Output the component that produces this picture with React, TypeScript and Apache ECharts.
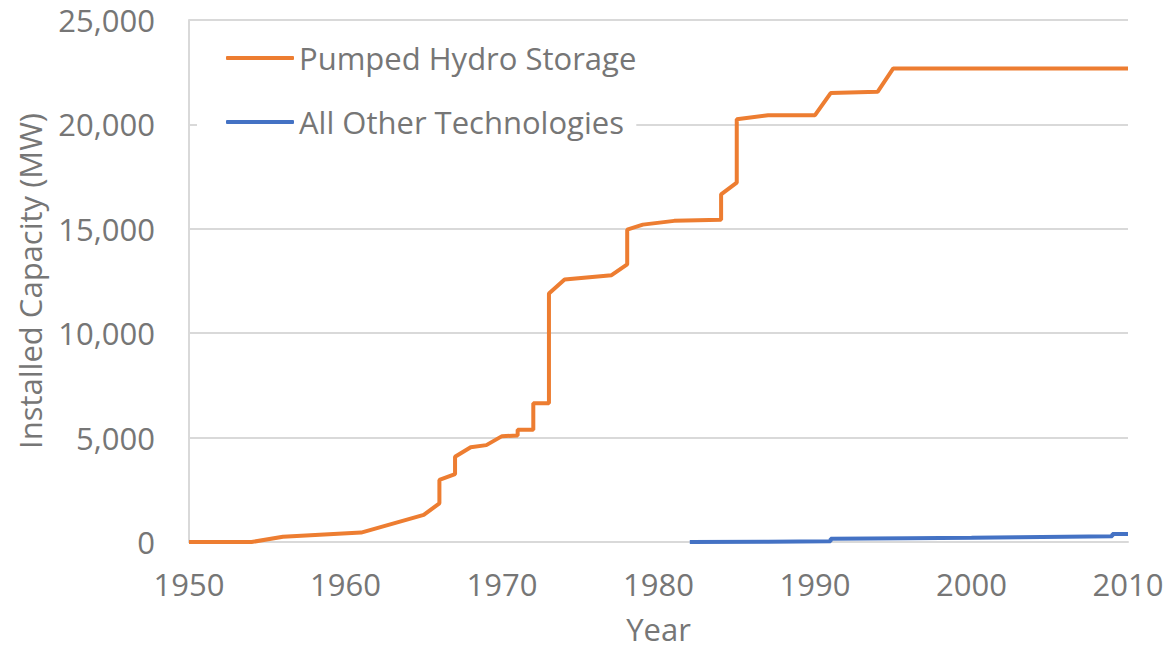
import React, { useEffect, useRef } from "react";
import * as echarts from "echarts";

const seriesNames = ["Pumped Hydro Storage", "All Other Technologies"];

// [year, MW]
const pumpedHydro: [number, number][] = [
  [1950, 0], [1954, 0], [1956, 250], [1961, 450], [1965, 1300],
  [1966, 1850], [1966, 2970], [1967, 3250], [1967, 4080], [1968, 4540],
  [1969, 4640], [1970, 5070], [1971, 5100], [1971, 5380], [1972, 5380],
  [1972, 6650], [1973, 6650], [1973, 11900], [1974, 12570], [1977, 12780],
  [1978, 13300], [1978, 14960], [1979, 15200], [1981, 15380], [1984, 15430],
  [1984, 16650], [1985, 17210], [1985, 20250], [1987, 20440], [1990, 20440],
  [1991, 21500], [1994, 21560], [1995, 22680], [2010, 22680],
];

const otherTech: [number, number][] = [
  [1982, 0], [1987, 10], [1991, 30], [1991, 150], [1996, 180],
  [2000, 200], [2003, 230], [2009, 270], [2009, 380], [2010, 380],
];

const xTicks = { min: 1950, max: 2010, interval: 10 };
const yTicks = { min: 0, max: 25000, interval: 5000 };

const FONT = "'Open Sans', sans-serif";
const GREY = "#767676";
const FS = 31;

export default function App() {
  const ref = useRef<HTMLDivElement>(null);
  useEffect(() => {
    if (!ref.current) return;
    const chart = echarts.init(ref.current, undefined, { renderer: "svg" });
    chart.setOption({
      animation: false,
      backgroundColor: "#ffffff",
      grid: {
        left: 189,
        right: 36,
        top: 20,
        bottom: 109,
        containLabel: false,
        outerBoundsMode: "none",
      },
      legend: {
        data: seriesNames,
        orient: "vertical",
        left: 197,
        top: 28,
        padding: [13, 0, 14, 29],
        backgroundColor: "#ffffff",
        itemWidth: 68,
        itemHeight: 4,
        itemGap: 30,
        icon: "roundRect",
        textStyle: { fontFamily: FONT, fontSize: FS, color: GREY, lineHeight: 34, padding: [0, 0, 0, 0] },
      },
      xAxis: {
        type: "value",
        min: xTicks.min,
        max: xTicks.max,
        interval: xTicks.interval,
        name: "Year",
        nameLocation: "middle",
        nameGap: 74,
        nameTextStyle: { fontFamily: FONT, fontSize: FS, color: GREY, lineHeight: 26 },
        axisLine: { show: true, lineStyle: { color: "#d9d9d9", width: 2 } },
        axisTick: { show: false },
        splitLine: { show: false },
        axisLabel: { fontFamily: FONT, fontSize: FS, color: GREY, margin: 26, formatter: (v: number) => String(v) },
      },
      yAxis: {
        type: "value",
        min: yTicks.min,
        max: yTicks.max,
        interval: yTicks.interval,
        name: "Installed Capacity (MW)",
        nameLocation: "middle",
        nameGap: 144,
        nameTextStyle: { fontFamily: FONT, fontSize: FS, color: GREY },
        axisLine: { show: true, lineStyle: { color: "#d9d9d9", width: 2 } },
        axisTick: { show: false },
        splitLine: { show: true, lineStyle: { color: "#d9d9d9", width: 2 } },
        axisLabel: {
          fontFamily: FONT,
          fontSize: FS,
          color: GREY,
          margin: 34,
          formatter: (v: number) => v.toLocaleString("en-US"),
        },
      },
      series: [
        {
          name: seriesNames[0],
          type: "line",
          data: pumpedHydro,
          showSymbol: false,
          symbol: "none",
          lineStyle: { color: "#ED7D31", width: 4 },
          itemStyle: { color: "#ED7D31" },
          z: 3,
        },
        {
          name: seriesNames[1],
          type: "line",
          data: otherTech,
          showSymbol: false,
          symbol: "none",
          lineStyle: { color: "#4472C4", width: 4 },
          itemStyle: { color: "#4472C4" },
          z: 4,
        },
      ],
    });
    return () => chart.dispose();
  }, []);
  return (
    <div
      ref={ref}
      style={{ position: "fixed", left: 0, top: 0, width: 1164, height: 651, overflow: "hidden" }}
    />
  );
}
